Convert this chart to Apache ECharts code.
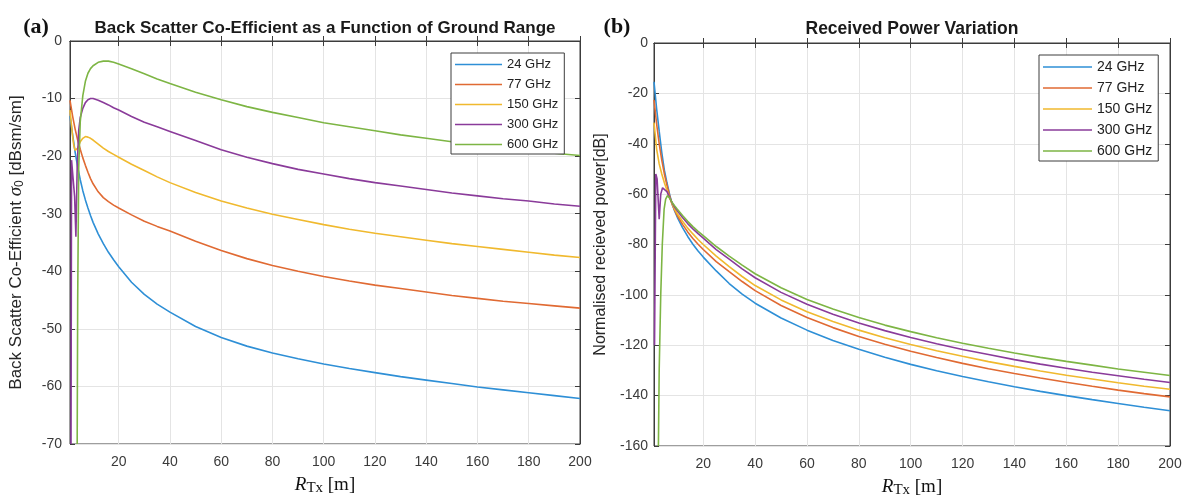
<!DOCTYPE html>
<html><head><meta charset="utf-8">
<script src="https://cdn.jsdelivr.net/npm/echarts@6/dist/echarts.min.js"></script>
<style>html,body{margin:0;padding:0;background:#fff}#c{width:1189px;height:503px}</style>
</head><body><div id="c"></div>
<script>
// ---------- data ----------
const seriesNames = ['24 GHz', '77 GHz', '150 GHz', '300 GHz', '600 GHz'];
const seriesColors = ['#2E8FD6', '#E06A33', '#F0B92E', '#8A3B9A', '#7DB544'];
const xTickValues = [20, 40, 60, 80, 100, 120, 140, 160, 180, 200];

// common range samples [m]
const rangeX = [1, 2, 3, 4, 5, 6, 7, 8, 9, 10, 12, 14, 16, 18, 20, 25, 30, 35, 40, 50, 60, 70, 80, 90, 100, 110, 120, 130, 140, 150, 160, 170, 180, 190, 200];

// (a) back scatter coefficient [dBsm/sm]
const bs24Y = [-13, -16.2, -19.3, -21.9, -24.1, -26.0, -27.6, -29.0, -30.3, -31.5, -33.5, -35.2, -36.7, -38.0, -39.2, -41.9, -44.0, -45.7, -47.1, -49.6, -51.5, -53.0, -54.2, -55.2, -56.1, -56.9, -57.6, -58.3, -58.9, -59.5, -60.1, -60.6, -61.1, -61.6, -62.1];
const bs77Y = [-10.3, -13.0, -15.3, -17.2, -18.8, -20.3, -21.6, -22.8, -23.9, -24.8, -26.2, -27.2, -27.9, -28.5, -29.0, -30.2, -31.3, -32.2, -33.0, -34.8, -36.4, -37.8, -39.0, -40.0, -40.9, -41.7, -42.4, -43.0, -43.6, -44.2, -44.7, -45.2, -45.6, -46.0, -46.4];
const bs150X = [1, 2, 2.5, 3, 3.5, 4, 5, 6, 7, 8, 9, 10, 12, 14, 16, 18, 20, 25, 30, 35, 40, 50, 60, 70, 80, 90, 100, 110, 120, 130, 140, 150, 160, 170, 180, 190, 200];
const bs150Y = [-12, -16.5, -18.2, -19.0, -19.2, -18.6, -17.5, -16.9, -16.6, -16.7, -16.9, -17.2, -17.9, -18.6, -19.2, -19.7, -20.2, -21.4, -22.5, -23.6, -24.6, -26.3, -27.8, -29.0, -30.1, -31.0, -31.9, -32.7, -33.4, -34.0, -34.6, -35.2, -35.7, -36.2, -36.7, -37.2, -37.6];
const bs300X = [1.4, 1.6, 2.3, 2.8, 3.3, 3.8, 4.4, 5, 6, 7, 8, 9, 10, 12, 14, 16, 18, 20, 25, 30, 35, 40, 50, 60, 70, 80, 90, 100, 110, 120, 130, 140, 150, 160, 170, 180, 190, 200];
const bs300Y = [-70, -20.7, -20.7, -27, -34, -22, -15.5, -13.3, -11.7, -10.7, -10.2, -10.0, -10.0, -10.3, -10.7, -11.1, -11.6, -12.0, -13.1, -14.1, -14.9, -15.7, -17.3, -18.9, -20.2, -21.3, -22.3, -23.1, -23.9, -24.6, -25.2, -25.8, -26.4, -26.9, -27.4, -27.8, -28.3, -28.7];
const bs600X = [3.8, 4.0, 4.4, 5, 6, 7, 8, 9, 10, 12, 14, 16, 18, 20, 25, 30, 35, 40, 50, 60, 70, 80, 90, 100, 110, 120, 130, 140, 150, 160, 170, 180, 190, 200];
const bs600Y = [-70, -45, -22, -14, -9.5, -7, -5.6, -4.8, -4.3, -3.7, -3.5, -3.5, -3.7, -4.0, -4.8, -5.7, -6.6, -7.4, -8.9, -10.2, -11.4, -12.4, -13.3, -14.2, -14.9, -15.6, -16.3, -16.9, -17.5, -18.0, -18.5, -19.0, -19.5, -19.9];

// (b) normalised received power [dB]
const pr24Y = [-15.4, -26, -35, -43.5, -50.5, -55.5, -60, -64, -66.8, -69.2, -73.3, -76.8, -79.9, -82.6, -85.0, -90.5, -95.5, -99.7, -103.3, -109.2, -114.0, -118.1, -121.6, -124.8, -127.6, -130.1, -132.4, -134.5, -136.5, -138.3, -140.0, -141.6, -143.1, -144.6, -146.0];
const pr77Y = [-22.6, -32, -40, -46.5, -52, -56.5, -60.5, -64, -66.5, -68.6, -72.0, -75.0, -77.6, -79.9, -82.0, -86.8, -90.8, -94.7, -98.3, -104.2, -109.0, -113.0, -116.5, -119.6, -122.4, -124.9, -127.2, -129.3, -131.2, -133.0, -134.7, -136.3, -137.8, -139.2, -140.5];
const pr150Y = [-31.6, -42, -48, -52, -55.5, -58.5, -61.5, -64, -66, -67.8, -70.8, -73.5, -75.8, -78.0, -80.0, -84.6, -88.8, -92.7, -96.3, -102.0, -106.7, -110.6, -114.0, -117.0, -119.7, -122.2, -124.4, -126.5, -128.4, -130.2, -131.9, -133.4, -134.9, -136.3, -137.5];
const pr300X = [1.2, 1.7, 2.2, 3.0, 3.6, 4.3, 5, 6, 7, 8, 9, 10, 12, 14, 16, 18, 20, 25, 30, 35, 40, 50, 60, 70, 80, 90, 100, 110, 120, 130, 140, 150, 160, 170, 180, 190, 200];
const pr300Y = [-120, -52, -54, -70, -60, -57.5, -57.5, -59, -61.3, -63.5, -65.2, -66.6, -69.3, -71.7, -73.8, -75.7, -77.5, -82.0, -85.8, -89.7, -93.2, -99.0, -103.7, -107.7, -111.2, -114.2, -116.9, -119.4, -121.7, -123.7, -125.7, -127.5, -129.1, -130.7, -132.1, -133.5, -134.8];
const pr600X = [2.7, 3.0, 3.6, 4.2, 4.9, 5.5, 6.2, 7, 8, 9, 10, 12, 14, 16, 18, 20, 25, 30, 35, 40, 50, 60, 70, 80, 90, 100, 110, 120, 130, 140, 150, 160, 170, 180, 190, 200];
const pr600Y = [-160, -130, -100, -80, -66, -62, -60.6, -61.5, -63.3, -64.7, -66.0, -68.5, -70.8, -72.9, -74.8, -76.5, -80.8, -84.6, -88.2, -91.6, -97.2, -101.8, -105.6, -109.0, -112.0, -114.6, -117.0, -119.2, -121.2, -123.1, -124.8, -126.4, -127.9, -129.4, -130.7, -132.0];

// ---------- build ----------
const zip = (xs, ys) => xs.map((x, i) => [x, ys[i]]);
const leftData = [zip(rangeX, bs24Y), zip(rangeX, bs77Y), zip(bs150X, bs150Y), zip(bs300X, bs300Y), zip(bs600X, bs600Y)];
const rightData = [zip(rangeX, pr24Y), zip(rangeX, pr77Y), zip(rangeX, pr150Y), zip(pr300X, pr300Y), zip(pr600X, pr600Y)];

const AX = '#3c3c3c';
const LBL = '#3a3a3a';
const GRIDC = '#e4e4e4';
const SANS = '"Liberation Sans", Arial, sans-serif';
const SERIF = '"Liberation Serif", "Times New Roman", serif';

function xAxes(gi) {
  return [{
    type: 'value', gridIndex: gi, position: 'bottom', min: 1, max: 200,
    axisLine: { show: true, lineStyle: { color: AX, width: 1 } },
    axisTick: { show: true, inside: true, length: 5, lineStyle: { color: AX }, customValues: xTickValues },
    axisLabel: { show: true, color: LBL, fontFamily: SANS, fontSize: 14, margin: 11, customValues: xTickValues },
    splitLine: { show: true, lineStyle: { color: GRIDC, width: 1 } },
    name: '{r|R}{t|Tx}{m| [m]}', nameLocation: 'middle', nameGap: 30,
    nameTextStyle: {
      rich: {
        r: { fontFamily: SERIF, fontStyle: 'italic', fontSize: 19, color: '#111', lineHeight: 22 },
        t: { fontFamily: SERIF, fontSize: 15, color: '#111', verticalAlign: 'bottom', lineHeight: 16 },
        m: { fontFamily: SERIF, fontSize: 19, color: '#111', lineHeight: 22 }
      }
    }
  }, {
    type: 'value', gridIndex: gi, position: 'top', min: 1, max: 200,
    axisLine: { show: true, lineStyle: { color: AX, width: 1 } },
    axisTick: { show: true, inside: true, length: 5, lineStyle: { color: AX }, customValues: xTickValues },
    axisLabel: { show: false }, splitLine: { show: false }
  }];
}
function yAxes(gi, min, interval, name, nameStyle, gap, margin) {
  return [{
    type: 'value', gridIndex: gi, position: 'left', min: min, max: 0, interval: interval,
    axisLine: { show: true, lineStyle: { color: AX, width: 1 } },
    axisTick: { show: true, inside: true, length: 5, lineStyle: { color: AX } },
    axisLabel: { color: LBL, fontFamily: SANS, fontSize: 14, margin: margin },
    splitLine: { show: true, lineStyle: { color: GRIDC, width: 1 } },
    name: name, nameLocation: 'middle', nameGap: gap, nameTextStyle: nameStyle
  }, {
    type: 'value', gridIndex: gi, position: 'right', min: min, max: 0, interval: interval,
    axisLine: { show: true, lineStyle: { color: AX, width: 1 } },
    axisTick: { show: true, inside: true, length: 5, lineStyle: { color: AX } },
    axisLabel: { show: false }, splitLine: { show: false }
  }];
}

const series = [];
leftData.forEach((d, i) => series.push({
  name: seriesNames[i], type: 'line', xAxisIndex: 0, yAxisIndex: 0, data: d,
  symbol: 'none', smooth: false, clip: true,
  lineStyle: { color: seriesColors[i], width: 1.6 }, itemStyle: { color: seriesColors[i] }
}));
rightData.forEach((d, i) => series.push({
  name: seriesNames[i], type: 'line', xAxisIndex: 2, yAxisIndex: 2, data: d,
  symbol: 'none', smooth: false, clip: true,
  lineStyle: { color: seriesColors[i], width: 1.6 }, itemStyle: { color: seriesColors[i] }
}));

const legendCommon = {
  orient: 'vertical', data: seriesNames, backgroundColor: '#fff',
  borderColor: '#3c3c3c', borderWidth: 1, itemHeight: 14, itemGap: 7,
  selectedMode: false
};

const option = {
  animation: false,
  backgroundColor: '#fff',
  grid: [
    { left: 70, top: 41, width: 510, height: 403, show: true, borderColor: AX, borderWidth: 1, backgroundColor: 'transparent' },
    { left: 654, top: 43, width: 516, height: 406, show: true, borderColor: AX, borderWidth: 1, backgroundColor: 'transparent' }
  ],
  xAxis: [...xAxes(0), ...xAxes(1)],
  yAxis: [
    ...yAxes(0, -70, 10, '{a|Back Scatter Co-Efficient }{s|σ}{b|0}{a| [dBsm/sm]}', {
      rich: {
        a: { fontFamily: SANS, fontSize: 17, color: '#262626', lineHeight: 20 },
        s: { fontFamily: SERIF, fontStyle: 'italic', fontSize: 19, color: '#262626', lineHeight: 20 },
        b: { fontFamily: SANS, fontSize: 12, color: '#262626', verticalAlign: 'bottom', lineHeight: 14 }
      }
    }, 44, 8),
    ...yAxes(1, -160, 20, 'Normalised recieved power[dB]', { fontFamily: SANS, fontSize: 16, color: '#262626' }, 45, 6)
  ],
  legend: [
    Object.assign({}, legendCommon, {
      left: 451, top: 53, padding: [5, 6, 3, 4], itemWidth: 47,
      icon: 'path://M0,0L47,0L47,1.6L0,1.6Z',
      textStyle: { fontFamily: SANS, fontSize: 13, color: '#222' }
    }),
    Object.assign({}, legendCommon, {
      left: 1039, top: 55, padding: [5, 6, 3, 4], itemWidth: 49,
      icon: 'path://M0,0L49,0L49,1.6L0,1.6Z',
      textStyle: { fontFamily: SANS, fontSize: 14, color: '#222' }
    })
  ],
  graphic: [
    { type: 'text', x: 325, y: 28, style: { text: 'Back Scatter Co-Efficient as a Function of Ground Range', font: 'bold 17px ' + SANS, fill: '#1a1a1a', align: 'center', verticalAlign: 'middle' } },
    { type: 'text', x: 912, y: 29, style: { text: 'Received Power Variation', font: 'bold 17.5px ' + SANS, fill: '#1a1a1a', align: 'center', verticalAlign: 'middle' } },
    { type: 'text', x: 36, y: 27, style: { text: '(a)', font: 'bold 22px ' + SERIF, fill: '#111', align: 'center', verticalAlign: 'middle' } },
    { type: 'text', x: 617, y: 27, style: { text: '(b)', font: 'bold 22px ' + SERIF, fill: '#111', align: 'center', verticalAlign: 'middle' } }
  ],
  series: series
};
const chart = echarts.init(document.getElementById('c'), null, { renderer: 'canvas' });
chart.setOption(option);
</script></body></html>
